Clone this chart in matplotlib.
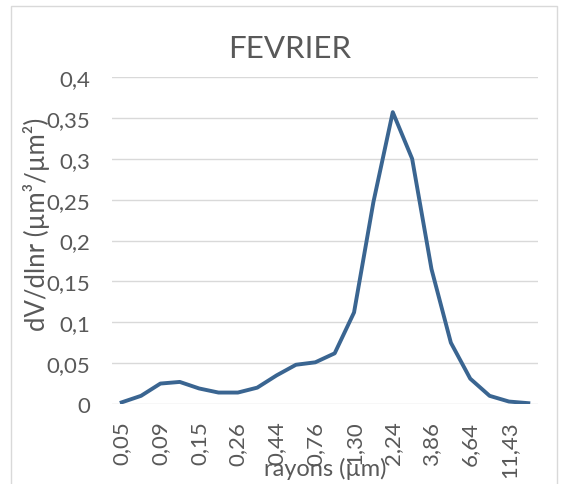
import numpy as np
import matplotlib.pyplot as plt
from matplotlib.patches import Rectangle

plt.rcParams['font.family'] = ['Lato', 'DejaVu Sans']

# rayons (categories) et valeurs dV/dlnr
rayons = ['0,05', '0,07', '0,09', '0,11', '0,15', '0,20', '0,26', '0,34',
          '0,44', '0,58', '0,76', '1,00', '1,30', '1,71', '2,24', '2,94',
          '3,86', '5,06', '6,64', '8,71', '11,43', '15,00']
dv = [0.002, 0.010, 0.025, 0.027, 0.019, 0.014, 0.014, 0.020,
      0.035, 0.048, 0.051, 0.062, 0.112, 0.247, 0.357, 0.300,
      0.165, 0.075, 0.031, 0.010, 0.003, 0.001]
yticks = [0, 0.05, 0.1, 0.15, 0.2, 0.25, 0.3, 0.35, 0.4]
ylabels = ['0', '0,05', '0,1', '0,15', '0,2', '0,25', '0,3', '0,35', '0,4']

W, H = 561, 485
fig = plt.figure(figsize=(W / 100, H / 100), dpi=100)
ax = fig.add_axes([112 / W, 1 - 405 / H, (538 - 112) / W, (405 - 78) / H])

x = np.arange(len(rayons))
ax.plot(x, dv, color='#3A6591', lw=2.8, solid_joinstyle='round', zorder=3)

ax.set_xlim(-0.5, len(rayons) - 0.5)
ax.set_ylim(0, 0.4)
ax.set_yticks(yticks)
ax.set_yticklabels(ylabels)
ax.set_xticks(x[::2])
ax.set_xticklabels(rayons[::2], rotation=90)
ax.tick_params(colors='#595959', labelsize=16, length=0)
ax.tick_params(axis='y', pad=16)
ax.tick_params(axis='x', pad=12)
ax.grid(axis='y', color='#D9D9D9', lw=1)
ax.set_axisbelow(True)
for s in ax.spines.values():
    s.set_visible(False)

fig.text(290 / W, 1 - 49 / H, 'FEVRIER', ha='center', va='center',
         fontsize=22.5, color='#595959')
fig.text(36 / W, 1 - 224 / H, 'dV/dlnr (µm³/µm²)', ha='center', va='center',
         rotation=90, fontsize=18.5, color='#595959')
fig.text(325 / W, 1 - 469 / H, 'rayons (µm)', ha='center', va='center',
         fontsize=17, color='#595959')

fig.patches.append(Rectangle((11 / W, -0.01), (557 - 11) / W, 1 - 7 / H + 0.01,
                             transform=fig.transFigure, fill=False,
                             edgecolor='#D9D9D9', lw=1))

fig.savefig('out.png', dpi=100)
